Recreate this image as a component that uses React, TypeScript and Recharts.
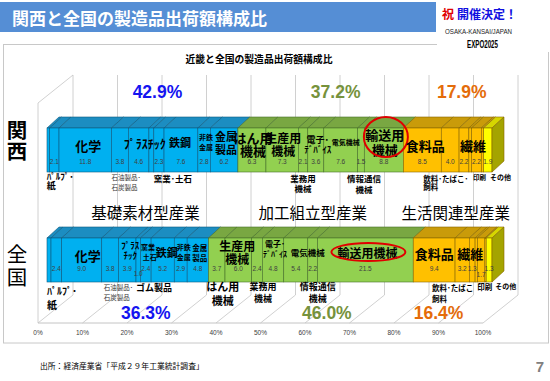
import React from 'react';
import { BarChart, Bar, XAxis, YAxis, CartesianGrid } from 'recharts';

// --- data ---
const regions = ['関西', '全国'];
const industries = [
  '木材・木製品', 'パルプ・紙', '化学', '石油製品・石炭製品', 'プラスチック製品', 'ゴム製品', '窯業・土石',
  '鉄鋼', '非鉄金属', '金属製品',
  'はん用機械', '生産用機械', '業務用機械', '電子部品・デバイス', '電気機械', '情報通信機械', '輸送用機械',
  '食料品', '飲料・たばこ・飼料', '繊維', '家具・装備品', '印刷', 'なめし革', 'その他',
];
const industryGroup = [0, 0, 0, 0, 0, 0, 0, 0, 0, 0, 1, 1, 1, 1, 1, 1, 1, 2, 2, 2, 2, 2, 2, 2];
const kansaiShare = [0.6, 2.1, 11.8, 3.8, 4.6, 1.1, 2.3, 7.6, 2.8, 6.2, 6.3, 7.3, 2.1, 3.6, 7.6, 1.5, 8.8, 8.5, 4.0, 2.2, 0.6, 2.2, 0.5, 1.9];
const zenkokuShare = [0.9, 2.4, 9.0, 3.8, 3.9, 1.0, 2.4, 5.2, 2.9, 4.8, 3.7, 6.0, 2.4, 4.8, 5.4, 2.2, 21.5, 9.4, 3.2, 1.3, 0.5, 1.7, 0.3, 1.3];
const groupNames = ['基礎素材型産業', '加工組立型産業', '生活関連型産業'];
const kansaiGroupLabel = ['42.9%', '37.2%', '17.9%'];
const zenkokuGroupLabel = ['36.3%', '46.0%', '16.4%'];
const percentTicks = [0, 10, 20, 30, 40, 50, 60, 70, 80, 90, 100];

const shares = [kansaiShare, zenkokuShare];
const groupLabels = [kansaiGroupLabel, zenkokuGroupLabel];
const chartData = regions.map((name, r) => {
  const row: Record<string, any> = { name };
  industries.forEach((_, i) => { row['s' + i] = shares[r][i]; });
  return row;
});

// --- look ---
const W = 550;
const H = 381;
const MARGIN = { top: 95, right: 58, bottom: 36, left: 0 };
const JP = '"Noto Sans CJK JP", "Noto Sans", sans-serif';
const LATIN = '"Liberation Sans", Arial, sans-serif';
const DX = 12;
const DY = 11;
const FRONT = ['#00b0f0', '#92d050', '#ffc000'];
const TOP = ['#1c8dc1', '#79a742', '#c99b0a'];
const EDGE = ['#0d5a80', '#46702a', '#876600'];
const GROUP_COLOR = ['#1414f0', '#76923c', '#e46c0a'];
const GRID = '#c4c4c4';

type Lbl = {
  seg: number; lines: string[]; size: number; dx: number; dy: number[];
  anchor?: 'start' | 'middle'; bold?: boolean; color?: string;
};

// labels inside the front face (dy from bar top)
const insideLabels: Lbl[][] = [
  [
    { seg: 2, lines: ['化学'], size: 13, dx: 3, dy: [17] },
    { seg: 4, lines: ['ﾌﾟﾗｽﾁｯｸ'], size: 12, dx: 6, dy: [15] },
    { seg: 7, lines: ['鉄鋼'], size: 11, dx: -1, dy: [14] },
    { seg: 8, lines: ['非鉄', '金属'], size: 7, dx: 2, dy: [9, 19] },
    { seg: 9, lines: ['金属', '製品'], size: 11, dx: 2, dy: [8, 21] },
    { seg: 10, lines: ['はん用', '機械'], size: 13, dx: 1, dy: [9, 22] },
    { seg: 11, lines: ['生産用', '機械'], size: 12, dx: 1, dy: [9, 22] },
    { seg: 13, lines: ['電子･', 'ﾃﾞﾊﾞｲｽ'], size: 9, dx: 2, dy: [11, 21] },
    { seg: 14, lines: ['電気機械'], size: 7, dx: 5, dy: [14] },
    { seg: 16, lines: ['輸送用', '機械'], size: 13, dx: 1, dy: [6, 21] },
    { seg: 17, lines: ['食料品'], size: 13, dx: 3, dy: [17] },
    { seg: 19, lines: ['繊維'], size: 13, dx: 9, dy: [17] },
  ],
  [
    { seg: 2, lines: ['化学'], size: 13, dx: 6, dy: [17] },
    { seg: 4, lines: ['ﾌﾟﾗｽ', 'ﾁｯｸ'], size: 9, dx: 3, dy: [7, 17] },
    { seg: 6, lines: ['窯業･', '土石'], size: 7, dx: 4, dy: [9, 19] },
    { seg: 7, lines: ['鉄鋼'], size: 11, dx: 4, dy: [14] },
    { seg: 8, lines: ['非鉄', '金属'], size: 7, dx: 3, dy: [9, 19] },
    { seg: 9, lines: ['金属', '製品'], size: 7.5, dx: 2, dy: [9, 19] },
    { seg: 11, lines: ['生産用', '機械'], size: 12, dx: -1, dy: [7, 20] },
    { seg: 13, lines: ['電子･', 'ﾃﾞﾊﾞｲｽ'], size: 8, dx: 2, dy: [5, 15] },
    { seg: 14, lines: ['電気機械'], size: 8.5, dx: 12, dy: [14] },
    { seg: 16, lines: ['輸送用機械'], size: 12, dx: 2, dy: [14] },
    { seg: 17, lines: ['食料品'], size: 13, dx: 0, dy: [15] },
    { seg: 19, lines: ['繊維'], size: 13, dx: -2, dy: [15] },
  ],
];

// labels under the bar (dy from bar bottom)
const outsideLabels: Lbl[][] = [
  [
    { seg: 1, lines: ['ﾊﾟﾙﾌﾟ･', '紙'], size: 9, dx: -3, dy: [4, 13], anchor: 'start' },
    { seg: 3, lines: ['石油製品･', '石炭製品'], size: 6.5, dx: 0, dy: [5, 15], anchor: 'start', bold: false, color: '#333' },
    { seg: 6, lines: ['窯業･土石'], size: 8.5, dx: 0, dy: [6], anchor: 'start' },
    { seg: 12, lines: ['業務用', '機械'], size: 8.5, dx: 0, dy: [6, 16] },
    { seg: 15, lines: ['情報通信', '機械'], size: 8.5, dx: 3, dy: [6, 17] },
    { seg: 18, lines: ['飲料･たばこ･', '飼料'], size: 7.5, dx: -18, dy: [6, 14], anchor: 'start' },
    { seg: 21, lines: ['印刷'], size: 6.5, dx: 1.5, dy: [5], anchor: 'start' },
    { seg: 23, lines: ['その他'], size: 7, dx: 6.5, dy: [5], anchor: 'start' },
  ],
  [
    { seg: 1, lines: ['ﾊﾟﾙﾌﾟ･', '紙'], size: 10, dx: -4, dy: [8, 22], anchor: 'start' },
    { seg: 3, lines: ['石油製品･', '石炭製品'], size: 6.5, dx: 2, dy: [5, 15], anchor: 'start', bold: false, color: '#333' },
    { seg: 5, lines: ['ゴム製品'], size: 9, dx: 0, dy: [5], anchor: 'start' },
    { seg: 10, lines: ['はん用', '機械'], size: 11, dx: 6, dy: [4, 18] },
    { seg: 12, lines: ['業務用', '機械'], size: 9, dx: 6, dy: [4, 16] },
    { seg: 15, lines: ['情報通信', '機械'], size: 9, dx: 5, dy: [4, 16] },
    { seg: 18, lines: ['飲料･たばこ', '飼料'], size: 7.5, dx: -23, dy: [5, 16], anchor: 'start' },
    { seg: 21, lines: ['印刷'], size: 7.5, dx: 0, dy: [4], anchor: 'start' },
    { seg: 23, lines: ['その他'], size: 7, dx: 9, dy: [4], anchor: 'start' },
  ],
];

const hiddenNumbers = [[0, 5, 20, 22], [0, 20, 22]];
const numberDy = [33, 30];
const numberDyOverride: Record<number, number>[] = [{}, { 5: 35, 21: 36 }];
const rings = [
  { seg: 16, dx: 2, dy: 9, rx: 22, ry: 20 },
  { seg: 16, dx: 3, dy: 14, rx: 37, ry: 9 },
];
const shareDy = [-36, 75];
const shareDx = [[15, 15, 14], [18, 16, -14]];
const titleDx = [3, -8, 8];
const titleDy = 84;
const rowCharY = [[-21, 0], [-7, 16]];

function rowOf(p: any) {
  const r = p.payload ? regions.indexOf(p.payload.name) : -1;
  return r >= 0 ? r : p.index ?? 0;
}

function TextLines({ x, ys, lbl }: { x: number; ys: number[]; lbl: Lbl }) {
  return (
    <g>
      {lbl.lines.map((t, k) => (
        <text
          key={k}
          x={x}
          y={ys[k]}
          dominantBaseline="central"
          textAnchor={lbl.anchor ?? 'middle'}
          fontFamily={JP}
          fontSize={lbl.size}
          fontWeight={lbl.bold === false ? 400 : 700}
          fill={lbl.color ?? '#000'}
        >
          {t}
        </text>
      ))}
    </g>
  );
}

function Segment3D(props: any) {
  const { x, y, width, height, seg } = props;
  if (!width || width <= 0) return null;
  const g = industryGroup[seg];
  const last = seg === industries.length - 1;
  const front = last ? '#ffff00' : FRONT[g];
  const top = last ? '#d6d600' : TOP[g];
  const edge = EDGE[g];
  return (
    <g>
      <polygon
        points={`${x},${y} ${x + DX},${y - DY} ${x + width + DX},${y - DY} ${x + width},${y}`}
        fill={top}
        stroke={edge}
        strokeWidth={0.6}
      />
      <rect x={x} y={y} width={width} height={height} fill={front} stroke={edge} strokeWidth={0.6} />
      {last && (
        <polygon
          points={`${x + width},${y} ${x + width + DX},${y - DY} ${x + width + DX},${y + height - DY} ${x + width},${y + height}`}
          fill="#a4a400"
          stroke={edge}
          strokeWidth={0.6}
        />
      )}
    </g>
  );
}

function SegmentLabels(props: any) {
  const { x, y, width, height, seg } = props;
  if (width == null) return null;
  const r = rowOf(props);
  const cx = x + width / 2;
  const bottom = y + height;
  const g = industryGroup[seg];
  const out: React.ReactNode[] = [];

  if (!hiddenNumbers[r].includes(seg)) {
    const dy = numberDyOverride[r][seg] ?? numberDy[r];
    out.push(
      <text key="n" x={cx} y={y + dy} textAnchor="middle" dominantBaseline="central"
        fontFamily={LATIN} fontSize={6.5} fill="#404040">
        {shares[r][seg].toFixed(1)}
      </text>
    );
  }
  insideLabels[r].filter((l) => l.seg === seg).forEach((l, k) => {
    const lx = (l.anchor === 'start' ? x : cx) + l.dx;
    out.push(<TextLines key={'i' + k} x={lx} ys={l.dy.map((d) => y + d)} lbl={l} />);
  });
  outsideLabels[r].filter((l) => l.seg === seg).forEach((l, k) => {
    const lx = (l.anchor === 'start' ? x : cx) + l.dx;
    out.push(<TextLines key={'o' + k} x={lx} ys={l.dy.map((d) => bottom + d)} lbl={l} />);
  });
  const ring = rings[r];
  if (ring.seg === seg) {
    out.push(
      <ellipse key="e" cx={cx + ring.dx} cy={y + ring.dy} rx={ring.rx} ry={ring.ry}
        fill="none" stroke="#e00000" strokeWidth={2} />
    );
  }
  if (industryGroup.indexOf(g) === seg) {
    const pxPerUnit = width / shares[r][seg];
    const total = shares[r].reduce((s, v, i) => (industryGroup[i] === g ? s + v : s), 0);
    const gc = x + (total * pxPerUnit) / 2;
    out.push(
      <text key="p" x={gc + shareDx[r][g]} y={y + shareDy[r]} textAnchor="middle" dominantBaseline="central"
        fontFamily={LATIN} fontWeight={700} fontSize={17.5} fill={GROUP_COLOR[g]}>
        {groupLabels[r][g]}
      </text>
    );
    if (r === 0) {
      out.push(
        <text key="t" x={gc + titleDx[g]} y={y + titleDy} textAnchor="middle" dominantBaseline="central"
          fontFamily={JP} fontSize={15.5} fill="#000">
          {groupNames[g]}
        </text>
      );
    }
  }
  return <g>{out}</g>;
}

function WallLine(p: any) {
  const { x1, y1, y2, index } = p;
  const bx = x1 + 26;
  return (
    <g key={'w' + index}>
      <line x1={bx} y1={y1 - 20} x2={bx} y2={y2 - 20} stroke={GRID} strokeWidth={0.8} />
      <line x1={x1 - 9} y1={y2 + 8} x2={bx} y2={y2 - 20} stroke={GRID} strokeWidth={0.8} />
      {index === 0 && (
        <g>
          <line x1={x1 - 9} y1={y1 + 8} x2={x1 - 9} y2={y2 + 8} stroke={GRID} strokeWidth={0.8} />
          <line x1={x1 - 9} y1={y1 + 8} x2={bx} y2={y1 - 20} stroke={GRID} strokeWidth={0.8} />
        </g>
      )}
    </g>
  );
}

function PercentTick(p: any) {
  return (
    <text x={p.x - 9} y={335} textAnchor="middle" fontFamily={LATIN} fontSize={6.5} fill="#404040">
      {p.payload.value}%
    </text>
  );
}

function RowTick(p: any) {
  const name: string = p.payload.value;
  const r = regions.indexOf(name);
  return (
    <g>
      {[...name].map((c, k) => (
        <text key={k} x={17} y={p.y + rowCharY[r][k]} textAnchor="middle" dominantBaseline="central"
          fontFamily={JP} fontSize={20.5} fontWeight={r === 0 ? 700 : 400} fill="#000">
          {c}
        </text>
      ))}
    </g>
  );
}

function BaseChart() {
  return (
    <BarChart width={W} height={H} data={chartData} layout="vertical" margin={MARGIN} barSize={44}>
      <CartesianGrid horizontal={false} vertical={WallLine} />
      <XAxis
        type="number"
        domain={[0, 100]}
        ticks={percentTicks}
        height={30}
        tickLine={false}
        axisLine={{ stroke: GRID, transform: 'translate(-9,8)' } as any}
        tick={PercentTick}
      />
      <YAxis type="category" dataKey="name" width={47} axisLine={false} tickLine={false} tick={RowTick} />
      {industries.map((_, i) => (
        <Bar
          key={i}
          dataKey={'s' + i}
          stackId="a"
          isAnimationActive={false}
          shape={(p: any) => <Segment3D {...p} seg={i} />}
        />
      ))}
    </BarChart>
  );
}

function LabelChart() {
  return (
    <BarChart width={W} height={H} data={chartData} layout="vertical" margin={MARGIN} barSize={44}>
      <XAxis type="number" domain={[0, 100]} ticks={percentTicks} height={30} tick={false} axisLine={false} tickLine={false} />
      <YAxis type="category" dataKey="name" width={47} tick={false} axisLine={false} tickLine={false} />
      {industries.map((_, i) => (
        <Bar
          key={i}
          dataKey={'s' + i}
          stackId="a"
          isAnimationActive={false}
          shape={(p: any) => <SegmentLabels {...p} seg={i} />}
        />
      ))}
    </BarChart>
  );
}

function Slide() {
  return (
    <svg width={W} height={H} style={{ position: 'absolute', left: 0, top: 0 }}>
      <rect x={3.5} y={44.5} width={545} height={298.5} fill="#fff" stroke="#c8c8c8" />
      <rect x={0} y={2} width={436} height={30} fill="#558ed5" />
      <text x={12} y={17} dominantBaseline="central" fontFamily={JP} fontWeight={700} fontSize={17} fill="#fff">
        関西と全国の製造品出荷額構成比
      </text>
      <rect x={437} y={0} width={113} height={52} fill="#fff" />
      <text x={442} y={13} dominantBaseline="central" fontFamily={JP} fontWeight={700} fontSize={12} fill="#e00000">祝</text>
      <text x={457} y={13} dominantBaseline="central" fontFamily={JP} fontWeight={700} fontSize={12} fill="#1010e0">開催決定！</text>
      <text x={445} y={31} dominantBaseline="central" fontFamily={LATIN} fontSize={8} fill="#222"
        textLength={67} lengthAdjust="spacingAndGlyphs">OSAKA-KANSAI/JAPAN</text>
      <text x={467} y={44} dominantBaseline="central" fontFamily={LATIN} fontWeight={700} fontSize={10} fill="#000"
        textLength={31} lengthAdjust="spacingAndGlyphs">EXPO2025</text>
      <text x={259} y={59} textAnchor="middle" dominantBaseline="central" fontFamily={JP} fontWeight={700} fontSize={9.8} fill="#000">
        近畿と全国の製造品出荷額構成比
      </text>
      <text x={40} y={365} dominantBaseline="central" fontFamily={JP} fontSize={7.8} fill="#000">
        出所：経済産業省「平成２９年工業統計調査」
      </text>
      <text x={540} y={366} textAnchor="middle" dominantBaseline="central" fontFamily={LATIN} fontWeight={700} fontSize={15} fill="#808080">7</text>
    </svg>
  );
}

export default function App() {
  return (
    <div style={{ position: 'absolute', left: 0, top: 0, width: W, height: H, background: '#fff', overflow: 'hidden' }}>
      <Slide />
      <div style={{ position: 'absolute', left: 0, top: 0 }}>
        <BaseChart />
      </div>
      <div style={{ position: 'absolute', left: 0, top: 0 }}>
        <LabelChart />
      </div>
    </div>
  );
}
